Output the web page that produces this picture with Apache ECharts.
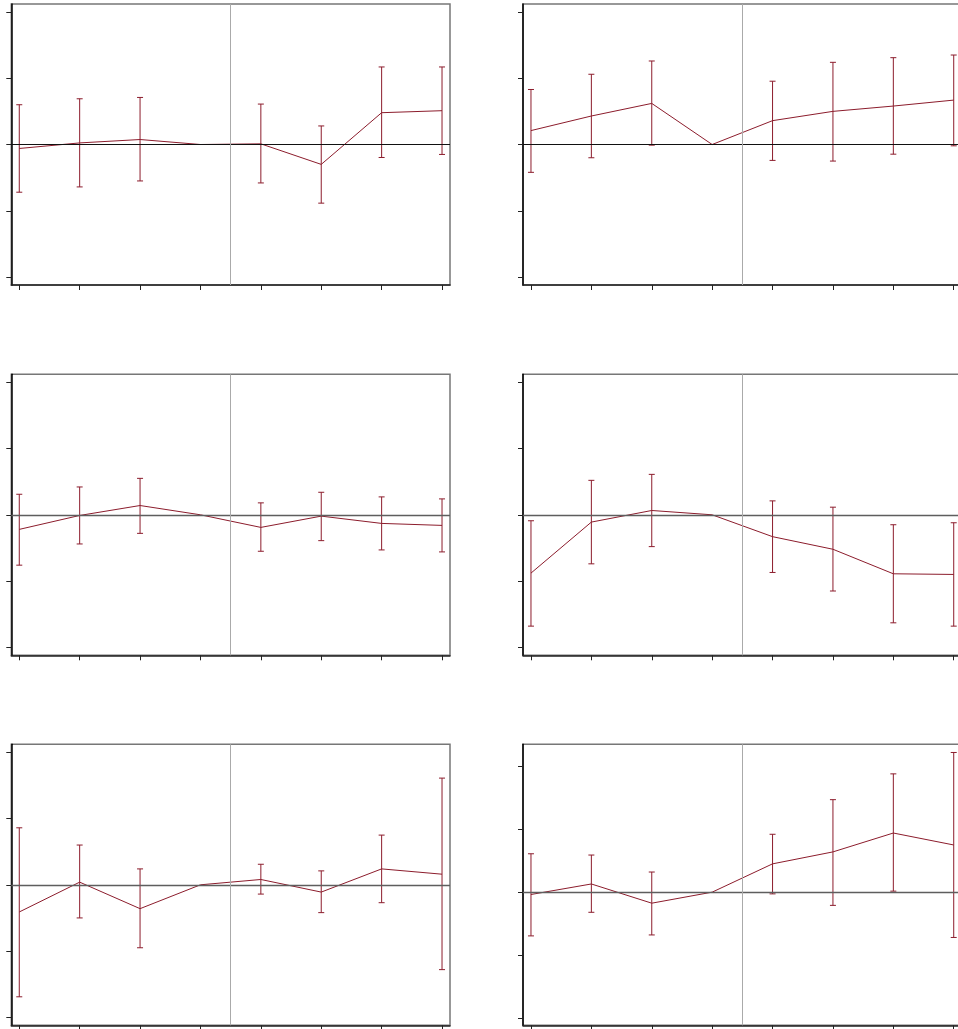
<!DOCTYPE html>
<html>
<head>
<meta charset="utf-8">
<script src="https://cdn.jsdelivr.net/npm/echarts@6/dist/echarts.min.js"></script>
<style>
html,body{margin:0;padding:0;background:#fff;overflow:hidden;}
#c{width:958px;height:1029px;}
</style>
</head>
<body>
<div id="c"></div>
<script>
// x positions (periods)
const periods = [1, 2, 3, 4, 5, 6, 7, 8];
const yTicks = [-2, -1, 0, 1, 2];

// Panel 1 (top-left)
const p1_est = [-0.06, 0.024, 0.075, 0, 0.01, -0.30, 0.48, 0.51];
const p1_lo  = [-0.72, -0.64, -0.55, null, -0.58, -0.885, -0.196, -0.15];
const p1_hi  = [0.60, 0.69, 0.71, null, 0.61, 0.28, 1.17, 1.17];
// Panel 2 (top-right)
const p2_est = [0.21, 0.43, 0.62, 0, 0.36, 0.50, 0.58, 0.67];
const p2_lo  = [-0.42, -0.20, -0.01, null, -0.24, -0.25, -0.146, -0.02];
const p2_hi  = [0.83, 1.06, 1.26, null, 0.955, 1.24, 1.31, 1.35];
// Panel 3 (middle-left)
const p3_est = [-0.22, -0.01, 0.14, 0, -0.19, -0.02, -0.13, -0.16];
const p3_lo  = [-0.76, -0.44, -0.28, null, -0.55, -0.39, -0.53, -0.56];
const p3_hi  = [0.31, 0.42, 0.55, null, 0.18, 0.34, 0.27, 0.24];
// Panel 4 (middle-right)
const p4_est = [-0.88, -0.11, 0.065, 0, -0.33, -0.52, -0.89, -0.90];
const p4_lo  = [-1.68, -0.74, -0.48, null, -0.87, -1.15, -1.63, -1.68];
const p4_hi  = [-0.09, 0.52, 0.61, null, 0.21, 0.115, -0.15, -0.12];
// Panel 5 (bottom-left)
const p5_est = [-0.41, 0.04, -0.36, 0, 0.08, -0.11, 0.24, 0.16];
const p5_lo  = [-1.69, -0.50, -0.95, null, -0.14, -0.42, -0.27, -1.28];
const p5_hi  = [0.86, 0.60, 0.24, null, 0.31, 0.21, 0.75, 1.61];
// Panel 6 (bottom-right)
const p6_est = [-0.037, 0.13, -0.175, 0, 0.45, 0.64, 0.94, 0.75];
const p6_lo  = [-0.695, -0.32, -0.68, null, -0.027, -0.21, 0.016, -0.72];
const p6_hi  = [0.61, 0.59, 0.32, null, 0.92, 1.47, 1.88, 2.22];

const panels = [
  {est: p1_est, lo: p1_lo, hi: p1_hi},
  {est: p2_est, lo: p2_lo, hi: p2_hi},
  {est: p3_est, lo: p3_lo, hi: p3_hi},
  {est: p4_est, lo: p4_lo, hi: p4_hi},
  {est: p5_est, lo: p5_lo, hi: p5_hi},
  {est: p6_est, lo: p6_lo, hi: p6_hi}
];

const RED = '#8c1c2c';
const colLeft = [11.3, 523];
const rowTop = [4, 374.3, 744.3];
const W = 438.7, H = 281;
const yRanges = [[-2.12, 2.12], [-2.12, 2.12], [-2.12, 2.12], [-2.12, 2.12], [-2.12, 2.12], [-2.116, 2.35]];
const zeroStyles = [
  {color: '#111', width: 1}, {color: '#111', width: 1},
  {color: '#5e5e5e', width: 1.4}, {color: '#5e5e5e', width: 1.4},
  {color: '#5e5e5e', width: 1.4}, {color: '#5e5e5e', width: 1.4}
];

const grids = [], xAxes = [], yAxes = [], series = [];
panels.forEach((p, i) => {
  const r = Math.floor(i / 2), c = i % 2;
  grids.push({
    left: colLeft[c], top: rowTop[r], width: W, height: H,
    outerBoundsMode: 'none', containLabel: false,
    show: true, borderColor: '#777', borderWidth: 1.5, backgroundColor: '#fff'
  });
  xAxes.push({
    type: 'value', gridIndex: i, min: 0.868, max: 8.132,
    axisLine: {show: true, onZero: false, lineStyle: {color: '#222', width: 1.5}},
    axisTick: {show: true, length: 5, customValues: periods, lineStyle: {color: '#222', width: 1}},
    axisLabel: {show: false, customValues: periods},
    splitLine: {show: false}
  });
  yAxes.push({
    type: 'value', gridIndex: i, min: yRanges[i][0], max: yRanges[i][1],
    axisLine: {show: true, onZero: false, lineStyle: {color: '#000', width: 1.5}},
    axisTick: {show: true, length: 5, customValues: yTicks, lineStyle: {color: '#222', width: 1}},
    axisLabel: {show: false, customValues: yTicks},
    splitLine: {show: false}
  });
  // reference lines
  series.push({
    type: 'line', xAxisIndex: i, yAxisIndex: i, data: [], z: 1,
    silent: true,
    markLine: {
      silent: true, symbol: ['none', 'none'], label: {show: false},
      animation: false,
      data: [
        {yAxis: 0, lineStyle: {color: zeroStyles[i].color, width: zeroStyles[i].width, type: 'solid'}},
        {xAxis: 4.5, lineStyle: {color: '#aaa', width: 1, type: 'solid'}}
      ]
    }
  });
  // estimate line
  series.push({
    type: 'line', xAxisIndex: i, yAxisIndex: i, z: 3,
    data: periods.map((x, k) => [x, p.est[k]]),
    showSymbol: false, symbol: 'none',
    lineStyle: {color: RED, width: 1},
    animation: false
  });
  // error bars
  series.push({
    type: 'custom', xAxisIndex: i, yAxisIndex: i, z: 4,
    data: periods.map((x, k) => [x, p.lo[k], p.hi[k]]).filter(d => d[1] !== null),
    renderItem: function (params, api) {
      const x = api.value(0);
      const lo = api.coord([x, api.value(1)]);
      const hi = api.coord([x, api.value(2)]);
      const cap = 3;
      const st = {stroke: RED, lineWidth: 1, fill: null};
      return {
        type: 'group',
        children: [
          {type: 'line', shape: {x1: lo[0], y1: lo[1], x2: hi[0], y2: hi[1]}, style: st},
          {type: 'line', shape: {x1: lo[0] - cap, y1: lo[1], x2: lo[0] + cap, y2: lo[1]}, style: st},
          {type: 'line', shape: {x1: hi[0] - cap, y1: hi[1], x2: hi[0] + cap, y2: hi[1]}, style: st}
        ]
      };
    },
    clip: false,
    animation: false
  });
});

const chart = echarts.init(document.getElementById('c'), null, {renderer: 'canvas'});
chart.setOption({
  animation: false,
  backgroundColor: '#fff',
  grid: grids, xAxis: xAxes, yAxis: yAxes, series: series
});
</script>
</body>
</html>
